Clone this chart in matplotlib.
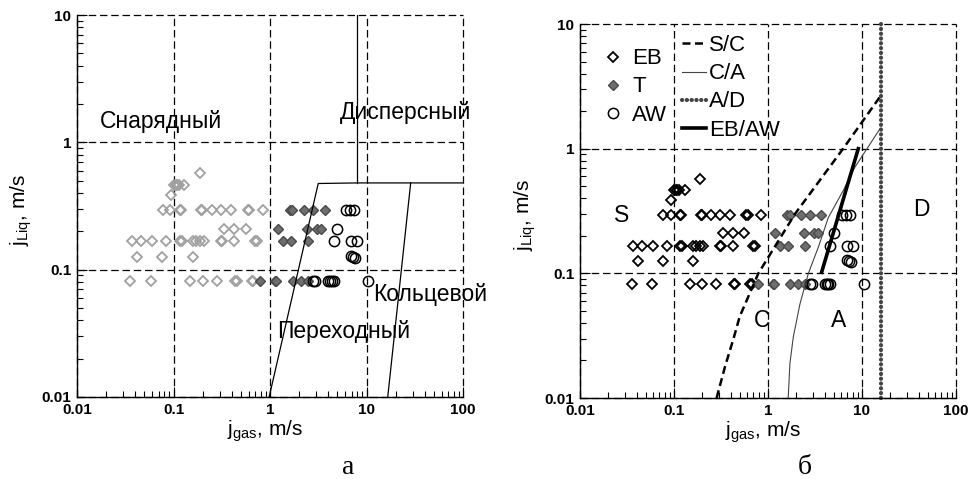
import numpy as np
import matplotlib
matplotlib.use('Agg')
import matplotlib.pyplot as plt

plt.rcParams['font.family'] = ['Liberation Sans', 'DejaVu Sans']
plt.rcParams['mathtext.default'] = 'regular'

# experimental points: (j_gas, j_liq) by regime
eb_x = [0.0357, 0.059, 0.148, 0.2, 0.28, 0.435, 0.45, 0.65, 0.67,
        0.0415, 0.076, 0.158,
        0.0369, 0.046, 0.060, 0.0836, 0.116, 0.122, 0.16, 0.173, 0.189, 0.205,
        0.308, 0.32, 0.42, 0.70, 0.73,
        0.33, 0.42, 0.56,
        0.077, 0.092, 0.116, 0.12, 0.192, 0.197, 0.25, 0.308, 0.39, 0.59, 0.61, 0.84,
        0.094,
        0.1, 0.105, 0.108, 0.114, 0.13,
        0.19]
eb_y = [0.082] * 9 + [0.125] * 3 + [0.167] * 15 + [0.21] * 3 + [0.295] * 12 + \
       [0.387] + [0.465] * 5 + [0.575]

t_x = [0.78, 1.12, 1.16, 1.72, 2.1, 2.5,
       1.35, 1.65, 2.5,
       1.2, 2.4, 3.1, 3.4,
       1.6, 1.7, 2.25, 2.77, 3.7]
t_y = [0.082] * 6 + [0.167] * 3 + [0.21] * 4 + [0.295] * 5

aw_x = [2.77, 2.93, 4.0, 4.2, 4.35, 4.6, 10.4,
        6.9, 7.3, 7.6,
        4.6, 6.9, 8.0,
        5.0,
        6.2, 6.7, 7.4]
aw_y = [0.082] * 7 + [0.127, 0.125, 0.123] + [0.167] * 3 + [0.21] + [0.295] * 3

# map (a) boundaries
a_trans_x = [0.98, 3.16, 8.04, 100]
a_trans_y = [0.01, 0.475, 0.48, 0.48]
a_disp_x = [8.04, 8.04]
a_disp_y = [0.48, 10]
a_ann_x = [16.6, 28.7]
a_ann_y = [0.01, 0.48]

# map (b) boundaries
sc_x = [0.284, 0.35, 0.43, 0.50, 0.79, 1.94, 6.3, 15.5]
sc_y = [0.01, 0.018, 0.03, 0.045, 0.1, 0.3, 1.0, 2.6]
ca_x = [1.64, 1.71, 1.86, 2.19, 2.69, 3.43, 4.38, 6.3, 8.4, 11.2, 15.5]
ca_y = [0.01, 0.0189, 0.031, 0.057, 0.1, 0.162, 0.28, 0.46, 0.71, 0.99, 1.44]
ad_x = [15.9, 15.9]
ad_y = [0.01, 10]
ebaw_x = [3.72, 9.13]
ebaw_y = [0.102, 1.0]

fig = plt.figure(figsize=(9.68, 4.79), dpi=100)
ax1 = fig.add_axes([77 / 968, 1 - 397 / 479, 386 / 968, 382 / 479])
ax2 = fig.add_axes([580 / 968, 1 - 398 / 479, 376 / 968, 374 / 479])

dash_grid = (0, (6, 3))


def setup(ax):
    ax.set_xscale('log')
    ax.set_yscale('log')
    ax.set_xlim(0.01, 100)
    ax.set_ylim(0.01, 10)
    ax.set_xticks([0.01, 0.1, 1, 10, 100])
    ax.set_xticklabels(['0.01', '0.1', '1', '10', '100'])
    ax.set_yticks([0.01, 0.1, 1, 10])
    ax.set_yticklabels(['0.01', '0.1', '1', '10'])
    for lab in ax.get_xticklabels() + ax.get_yticklabels():
        lab.set_fontweight('bold')
        lab.set_fontsize(11)
    ax.tick_params(which='major', direction='in', length=7, width=0.8, pad=4)
    ax.tick_params(which='minor', direction='in', length=4, width=0.8)
    ax.spines['top'].set_visible(False)
    ax.spines['right'].set_visible(False)
    for s in ['left', 'bottom']:
        ax.spines[s].set_linewidth(1.0)
    ax.grid(True, which='major', color='black', linestyle=dash_grid, linewidth=0.9)
    ax.set_xlabel(r'j$_{gas}$, m/s', fontsize=15)
    ax.set_ylabel(r'j$_{Liq}$, m/s', fontsize=15)
    ax.xaxis.set_label_coords(0.487, -0.057)
    ax.yaxis.set_label_coords(-0.112, 0.49)
    for l in ax.get_xgridlines() + ax.get_ygridlines():
        l.set_clip_on(False)


setup(ax1)
setup(ax2)

# ---- panel (a)
ax1.plot(eb_x, eb_y, 'D', ms=4.8, mfc='none', mec='#a0a0a0', mew=1.3, ls='none')
ax1.plot(t_x, t_y, 'D', ms=4.8, mfc='#6e6e6e', mec='#4a4a4a', mew=1.0, ls='none')
ax1.plot(aw_x, aw_y, 'o', ms=7.4, mfc='none', mec='black', mew=1.1, ls='none')
ax1.plot(a_trans_x, a_trans_y, color='black', lw=0.9)
ax1.plot(a_disp_x, a_disp_y, color='black', lw=0.9)
ax1.plot(a_ann_x, a_ann_y, color='black', lw=0.9)

txt = dict(fontsize=16.5)
ax1.text(0.074, 1.46, 'Снарядный', ha='center', va='center', **txt)
ax1.text(25.7, 1.72, 'Дисперсный', ha='center', va='center', **txt)
ax1.text(11.6, 0.0635, 'Кольцевой', ha='left', va='center', clip_on=False, **txt)
ax1.text(5.78, 0.0325, 'Переходный', ha='center', va='center', **txt)

# ---- panel (b)
h_eb, = ax2.plot(eb_x, eb_y, 'D', ms=4.8, mfc='none', mec='black', mew=1.3, ls='none')
h_t, = ax2.plot(t_x, t_y, 'D', ms=4.8, mfc='#6e6e6e', mec='#4a4a4a', mew=1.0, ls='none')
h_aw, = ax2.plot(aw_x, aw_y, 'o', ms=7.4, mfc='none', mec='black', mew=1.1, ls='none')
h_sc, = ax2.plot(sc_x, sc_y, color='black', lw=1.8, dashes=(3.2, 1.8))
h_ca, = ax2.plot(ca_x, ca_y, color='#444444', lw=0.8)
h_ad, = ax2.plot(ad_x, ad_y, color='#444444', lw=3.0, dashes=(0.05, 1.1),
                 dash_capstyle='round', clip_on=False)
h_ebaw, = ax2.plot(ebaw_x, ebaw_y, color='black', lw=2.6)

ax2.text(0.028, 0.29, 'S', ha='center', va='center', **txt)
ax2.text(42.5, 0.325, 'D', ha='center', va='center', **txt)
ax2.text(0.86, 0.042, 'C', ha='center', va='center', **txt)
ax2.text(5.6, 0.042, 'A', ha='center', va='center', **txt)

leg1 = ax2.legend([h_eb, h_t, h_aw], ['EB', 'T', 'AW'], loc='upper left',
                  bbox_to_anchor=(0.065, 0.935), frameon=False, fontsize=16,
                  handlelength=0.8, handletextpad=0.45, labelspacing=0.32,
                  borderpad=0, borderaxespad=0)
ax2.add_artist(leg1)
ax2.legend([h_sc, h_ca, h_ad, h_ebaw], ['S/C', 'C/A', 'A/D', 'EB/AW'], loc='upper left',
           bbox_to_anchor=(0.27, 0.97), frameon=False, fontsize=16,
           handlelength=1.1, handletextpad=0.15, labelspacing=0.32,
           borderpad=0, borderaxespad=0)

fig.text(348 / 968, 1 - 467 / 479, 'а', family='Liberation Serif', fontsize=20,
         ha='center', va='center')
fig.text(805 / 968, 1 - 467 / 479, 'б', family='Liberation Serif', fontsize=20,
         ha='center', va='center')

fig.savefig('out.png', dpi=100)
